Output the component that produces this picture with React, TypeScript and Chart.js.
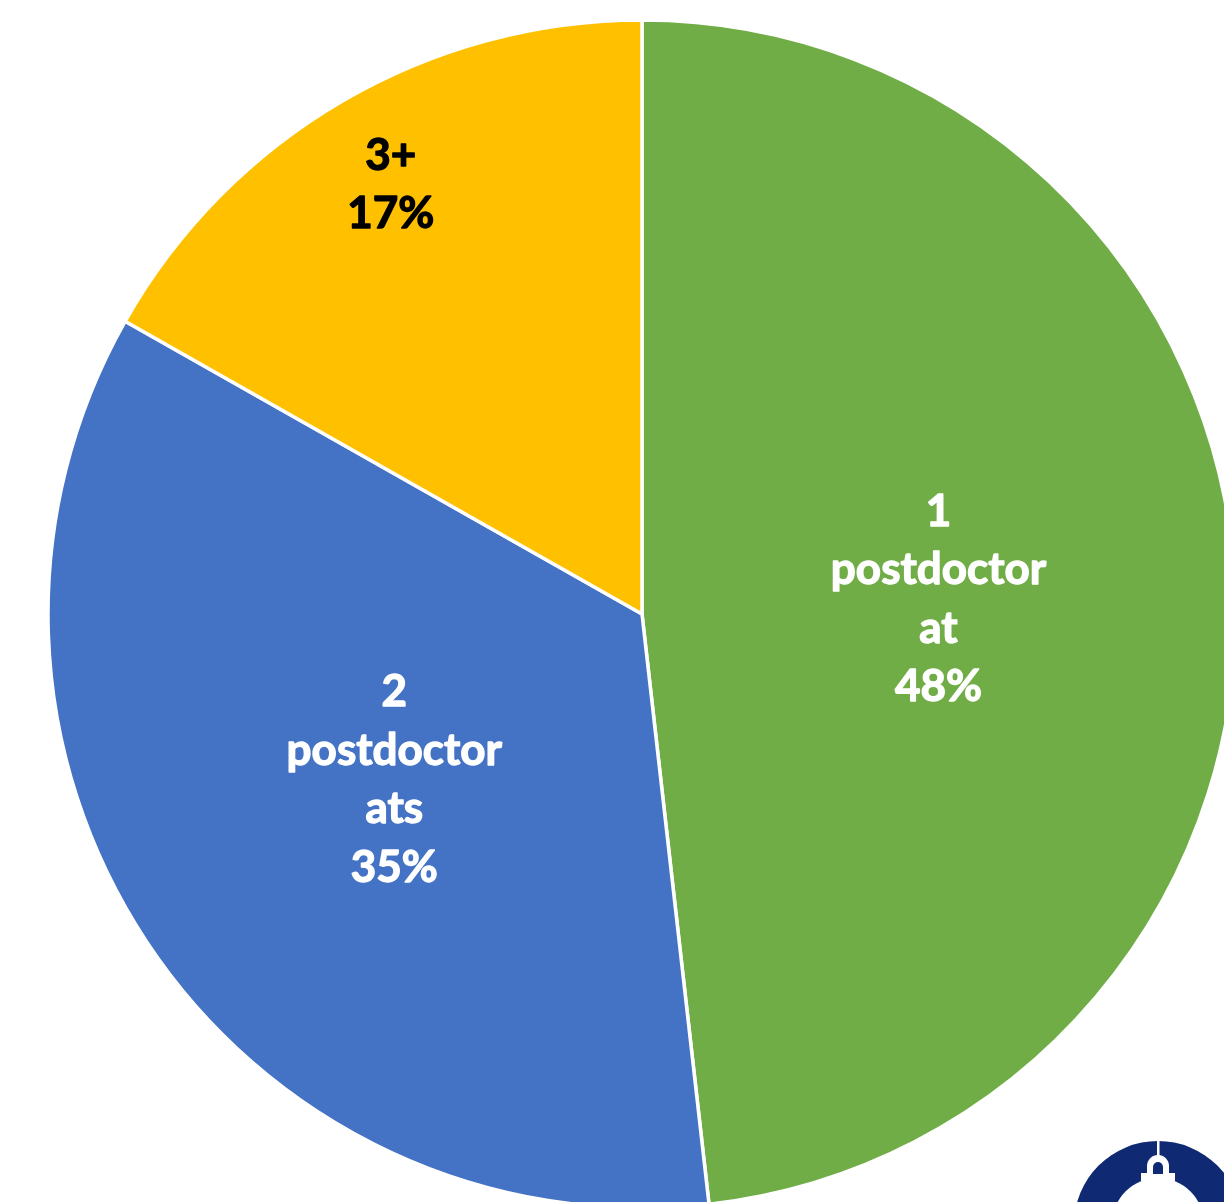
import React, { useEffect, useRef } from "react";
import { Chart, registerables } from "chart.js";

Chart.register(...registerables);

const categories: string[][] = [["1", "postdoctor", "at"], ["2", "postdoctor", "ats"], ["3+"]];
const shares: number[] = [48.2, 35.0, 16.8];
const sliceColors: string[] = ["#70AD47", "#4472C4", "#FFC000"];
const labelColors: string[] = ["#FFFFFF", "#FFFFFF", "#000000"];
const labelRadiusRatios: number[] = [0.5, 0.5, 0.84];

const labelPlugin = {
  id: "sliceLabels",
  afterDatasetsDraw(chart: any) {
    const ctx = chart.ctx;
    const meta = chart.getDatasetMeta(0);
    const lineH = 58.5;
    ctx.save();
    ctx.font = "bold 44px Lato, 'Open Sans', sans-serif";
    ctx.textAlign = "center";
    ctx.textBaseline = "middle";
    ctx.lineJoin = "round";
    ctx.lineWidth = 1.3;
    meta.data.forEach((arc: any, i: number) => {
      const p = arc.getProps(["x", "y", "startAngle", "endAngle", "outerRadius"], true);
      const mid = (p.startAngle + p.endAngle) / 2;
      const r = p.outerRadius * labelRadiusRatios[i];
      const cx = p.x + Math.cos(mid) * r;
      const cy = p.y + Math.sin(mid) * r + 2;
      const lines = [...categories[i], `${Math.round(shares[i])}%`];
      const top = cy - ((lines.length - 1) * lineH) / 2;
      ctx.fillStyle = labelColors[i];
      ctx.strokeStyle = labelColors[i];
      lines.forEach((t, j) => {
        ctx.strokeText(t, cx, top + j * lineH);
        ctx.fillText(t, cx, top + j * lineH);
      });
    });
    ctx.restore();
  },
};

export default function App() {
  const ref = useRef<HTMLCanvasElement | null>(null);
  useEffect(() => {
    if (!ref.current) return;
    const chart = new Chart(ref.current, {
      type: "pie",
      data: {
        labels: categories,
        datasets: [
          {
            data: shares,
            backgroundColor: sliceColors,
            borderColor: "#FFFFFF",
            borderWidth: 3.5,
          },
        ],
      },
      options: {
        responsive: false,
        animation: false,
        radius: 594,
        layout: { padding: 0 },
        plugins: {
          legend: { display: false },
          tooltip: { enabled: false },
          title: { display: false },
        },
      },
      plugins: [labelPlugin],
    });
    return () => chart.destroy();
  }, []);

  return (
    <div
      style={{
        position: "fixed",
        left: 0,
        top: 0,
        width: 1224,
        height: 1202,
        overflow: "hidden",
        background: "#FFFFFF",
      }}
    >
      <div style={{ position: "absolute", left: 42, top: 14, width: 1200, height: 1200 }}>
        <canvas ref={ref} width={1200} height={1200} style={{ width: 1200, height: 1200 }} />
      </div>
      <svg
        style={{ position: "absolute", left: 1060, top: 1130 }}
        width={200}
        height={180}
        viewBox="1060 1130 200 180"
      >
        <circle cx={1158} cy={1225} r={84} fill="#0F2A72" />
        <circle cx={1158} cy={1224} r={46} fill="#FFFFFF" />
        <rect x={1141} y={1173} width={34} height={8} fill="#FFFFFF" />
        <path d="M1147 1176 L1147 1166 A11 11 0 0 1 1169 1166 L1169 1176 Z" fill="#FFFFFF" />
        <path d="M1153 1174 L1153 1167 A5 5 0 0 1 1163 1167 L1163 1174 Z" fill="#0F2A72" />
        <rect x={1157} y={1140} width={2.5} height={17} fill="#FFFFFF" />
      </svg>
    </div>
  );
}
